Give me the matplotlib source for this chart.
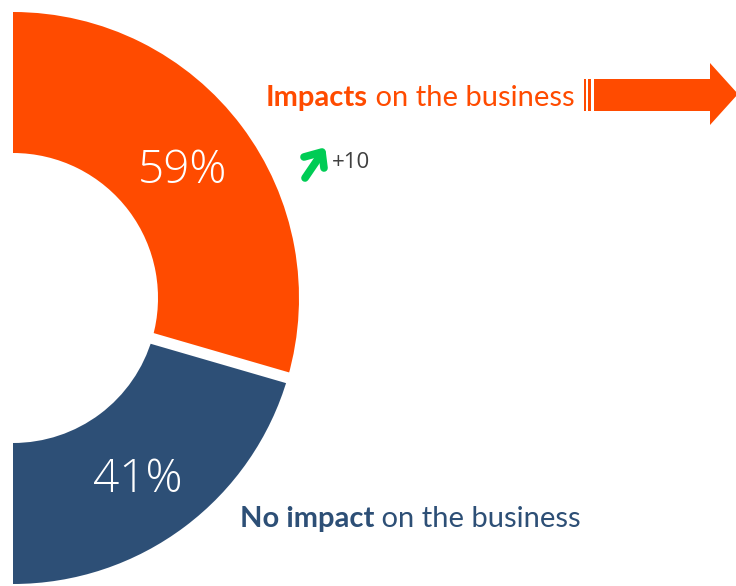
import matplotlib.pyplot as plt
from matplotlib.patches import Polygon, Rectangle
import numpy as np

shares = [59, 41]
pct_labels = ["59%", "41%"]
colors = ["#FF4B00", "#2D4F76"]
bold_parts = ["Impacts", "No impact"]
rest_parts = [" on the business", " on the business"]
change_label = "+10"

W, H = 736, 586
fig = plt.figure(figsize=(W / 100, H / 100), dpi=100)
ax = fig.add_axes([0, 0, 1, 1])

# half donut: the two shares fill the right half, a hidden slice fills the left
cx, cy = 13, H - 298
R, ring = 286, 141
wedges, _ = ax.pie(shares + [sum(shares)], colors=colors + ["none"],
                   startangle=90, counterclock=False, center=(cx, cy), radius=R,
                   wedgeprops=dict(width=ring, linewidth=0))

# white gap between the two slices
th = np.deg2rad(wedges[0].theta1)
ax.plot([cx, cx + (R + 10) * np.cos(th)], [cy, cy + (R + 10) * np.sin(th)],
        color="white", lw=8, solid_capstyle="butt", zorder=3)

# percentage labels inside each ring slice
for w, lab, k, nudge in zip(wedges[:2], pct_labels, [0.74, 0.77], [0, -2.5]):
    mid = np.deg2rad((w.theta1 + w.theta2) / 2 + nudge)
    rr = R * k
    ax.text(cx + rr * np.cos(mid), cy + rr * np.sin(mid), lab, color="white",
            fontsize=33, family="Open Sans", fontweight="light",
            ha="center", va="center", zorder=4)

# category captions: bold keyword followed by regular text
def caption(x, y, bold, rest, color):
    t1 = ax.text(x, y, bold, color=color, fontsize=21, family="Lato",
                 fontweight="bold", ha="left", va="center")
    ax.annotate(rest, xy=(1, 0), xycoords=t1, color=color, fontsize=21,
                family="Lato", ha="left", va="bottom")

caption(266, H - 98, bold_parts[0], rest_parts[0], colors[0])
caption(240, H - 519, bold_parts[1], rest_parts[1], colors[1])

# striped block arrow after the top caption
ax.add_patch(Rectangle((584, H - 111), 2, 32, color=colors[0], lw=0))
ax.add_patch(Rectangle((588, H - 111), 3, 32, color=colors[0], lw=0))
ax.add_patch(Polygon([(594, H - 79), (710, H - 79), (710, H - 63), (738, H - 94),
                      (710, H - 125), (710, H - 111), (594, H - 111)],
                     closed=True, color=colors[0], lw=0))

# green up-right change marker
green = "#00CC55"
ax.plot([305, 322], [H - 178, H - 153], color=green, lw=5.5, solid_capstyle="round")
ax.plot([304, 322, 324], [H - 157, H - 152, H - 168], color=green, lw=5.5,
        solid_capstyle="round", solid_joinstyle="round")
ax.text(332, H - 163, change_label, color="#404040", fontsize=16,
        family="Open Sans", ha="left", va="center")

ax.set_xlim(0, W)
ax.set_ylim(0, H)
ax.set_aspect("equal")
ax.axis("off")

fig.savefig("out.png", dpi=100)
